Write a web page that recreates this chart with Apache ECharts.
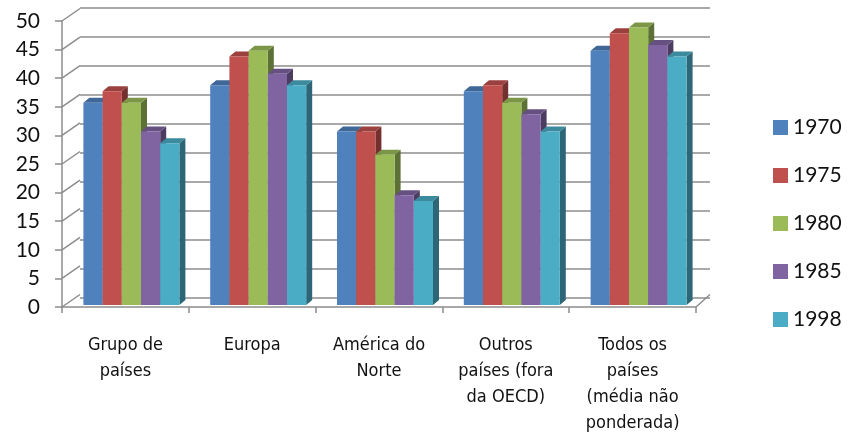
<!DOCTYPE html>
<html>
<head>
<meta charset="utf-8">
<script src="https://cdn.jsdelivr.net/npm/echarts@6/dist/echarts.min.js"></script>
<style>
  html, body { margin: 0; padding: 0; background: #fff; }
  #chart { width: 854px; height: 436px; }
</style>
</head>
<body>
<div id="chart"></div>
<script>
// categories and series values
const categories = ['Grupo de\npaíses', 'Europa', 'América do\nNorte', 'Outros\npaíses (fora\nda OECD)', 'Todos os\npaíses\n(média não\nponderada)'];
const years = ['1970', '1975', '1980', '1985', '1998'];
const s1970 = [35, 38, 30, 37, 44];
const s1975 = [37, 43, 30, 38, 47];
const s1980 = [35, 44, 26, 35, 48];
const s1985 = [30, 40, 19, 33, 45];
const s1998 = [28, 38, 18, 30, 43];
const yTicks = [0, 5, 10, 15, 20, 25, 30, 35, 40, 45, 50];

const seriesValues = [s1970, s1975, s1980, s1985, s1998];
const colors = ['#4F81BD', '#C0504D', '#9BBB59', '#8064A2', '#4BACC6'];
const gridColor = '#8c8c8c';

// 3d look: bar depth offset, wall depth offset
const barDx = 6, barDy = -5;
const wallDx = 18, wallDy = -12.5;

const chart = echarts.init(document.getElementById('chart'));

// simple darken, factor < 1
function shade(hex, f) {
  const n = parseInt(hex.slice(1), 16);
  const r = Math.round(((n >> 16) & 255) * f);
  const g = Math.round(((n >> 8) & 255) * f);
  const b = Math.round((n & 255) * f);
  return 'rgb(' + r + ',' + g + ',' + b + ')';
}

function barRenderer(idx, color) {
  return function (params, api) {
    const cat = api.value(0);
    const v = api.value(1);
    const top = api.coord([cat, v]);
    const base = api.coord([cat, 0]);
    const band = api.size([1, 0])[0];
    const bw = band * 0.1514;
    const x0 = top[0] - 2.5 * bw + idx * bw;
    const x1 = x0 + bw;
    const topC = shade(color, 0.8);
    const sideC = shade(color, 0.6);
    return {
      type: 'group',
      children: [
        { type: 'polygon', shape: { points: [[x1, top[1]], [x1 + barDx, top[1] + barDy], [x1 + barDx, base[1] + barDy], [x1, base[1]]] }, style: { fill: sideC } },
        { type: 'polygon', shape: { points: [[x0, top[1]], [x1, top[1]], [x1 + barDx, top[1] + barDy], [x0 + barDx, top[1] + barDy]] }, style: { fill: topC } },
        { type: 'rect', shape: { x: x0, y: top[1], width: bw, height: base[1] - top[1] }, style: { fill: color } }
      ]
    };
  };
}

const barSeries = years.map((y, i) => ({
  name: y,
  type: 'custom',
  xAxisIndex: 2,
  yAxisIndex: 2,
  itemStyle: { color: colors[i] },
  renderItem: barRenderer(i, colors[i]),
  data: seriesValues[i].map((v, c) => [c, v]),
  z: 5 + i
}));

// slanted lines on the left wall and floor corner
const wallSeries = {
  type: 'custom',
  xAxisIndex: 0,
  yAxisIndex: 0,
  silent: true,
  renderItem: function (params, api) {
    const cs = params.coordSys;
    const p = api.coord([0, api.value(0)]);
    const children = [
      { type: 'line', shape: { x1: cs.x, y1: p[1], x2: cs.x + wallDx, y2: p[1] + wallDy }, style: { stroke: gridColor, lineWidth: 1.5 } }
    ];
    if (api.value(0) === 0) {
      children.push({ type: 'line', shape: { x1: cs.x + cs.width, y1: p[1], x2: cs.x + cs.width + 14, y2: p[1] + wallDy }, style: { stroke: gridColor, lineWidth: 1.5 } });
    }
    return { type: 'group', children: children };
  },
  data: yTicks.map(v => [v]),
  encode: { y: 0 },
  z: 1
};

const option = {
  animation: false,
  color: colors,
  legend: {
    orient: 'vertical',
    left: 768,
    top: 112,
    itemWidth: 15,
    itemHeight: 15,
    itemGap: 27,
    icon: 'rect',
    data: years,
    textStyle: { fontSize: 21, color: '#111', fontFamily: 'Lato, "Open Sans", sans-serif' }
  },
  grid: [
    { left: 62, top: 21, width: 634, height: 289 },   // front axes
    { left: 80, top: 8, width: 630, height: 290 },    // back wall
    { left: 68, top: 16, width: 634, height: 289 }    // bar plane
  ],
  xAxis: [
    {
      gridIndex: 0,
      type: 'category',
      data: categories,
      axisLine: { lineStyle: { color: gridColor, width: 1.5 } },
      axisTick: { show: true, length: 6, lineStyle: { color: gridColor, width: 1.5 } },
      axisLabel: {
        interval: 0,
        margin: 25,
        fontSize: 18,
        lineHeight: 26,
        color: '#111',
        fontFamily: '"DejaVu Sans Condensed", "Liberation Sans Narrow", sans-serif'
      }
    },
    { gridIndex: 1, type: 'category', data: categories, show: false },
    { gridIndex: 2, type: 'category', data: categories, show: false }
  ],
  yAxis: [
    {
      gridIndex: 0,
      type: 'value',
      min: 0, max: 50, interval: 5,
      axisLine: { show: true, lineStyle: { color: gridColor, width: 1.5 } },
      axisTick: { show: true, length: 7, lineStyle: { color: gridColor, width: 1.5 } },
      splitLine: { show: false },
      axisLabel: { margin: 22, fontSize: 21, color: '#111', fontFamily: 'Lato, "Open Sans", sans-serif' }
    },
    {
      gridIndex: 1,
      type: 'value',
      min: 0, max: 50, interval: 5,
      axisLine: { show: false },
      axisTick: { show: false },
      axisLabel: { show: false },
      splitLine: { show: true, lineStyle: { color: gridColor, width: 1.5 } }
    },
    { gridIndex: 2, type: 'value', min: 0, max: 50, interval: 5, show: false, splitLine: { show: false } }
  ],
  series: [wallSeries].concat(barSeries)
};

chart.setOption(option);
</script>
</body>
</html>
